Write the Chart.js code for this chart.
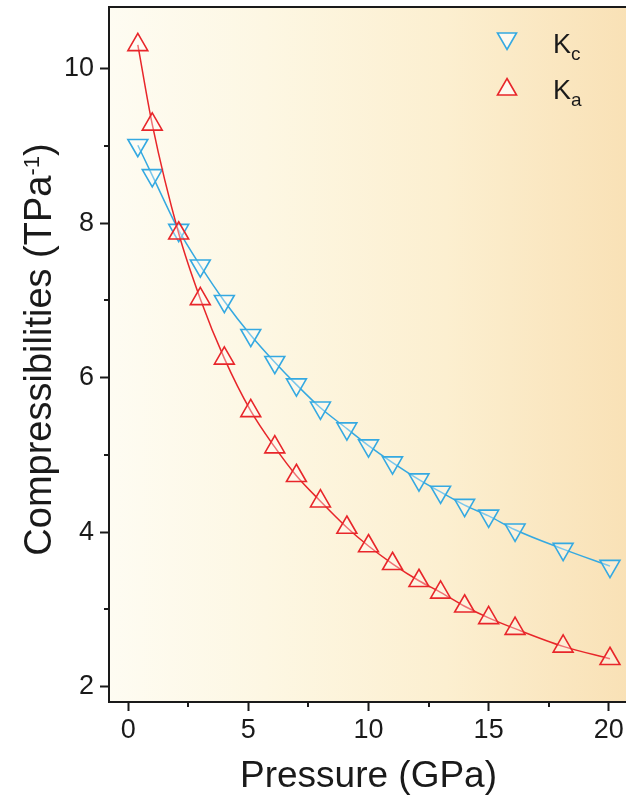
<!DOCTYPE html>
<html>
<head>
<meta charset="utf-8">
<script src="https://cdn.jsdelivr.net/npm/chart.js@4.4.1/dist/chart.umd.min.js"></script>
<style>
  html, body { margin: 0; padding: 0; background: #fff; overflow: hidden; }
  #chdiv { width: 626px; height: 805px; overflow: hidden; }
  canvas { display: block; }
</style>
</head>
<body>
<div id="chdiv"><canvas id="kchart" width="630" height="805"></canvas></div>
<script>
// data
const pressure = [0.4, 1.0, 2.1, 3.0, 4.0, 5.1, 6.1, 7.0, 8.0, 9.1, 10.0, 11.0, 12.1, 13.0, 14.0, 15.0, 16.1, 18.1, 20.05];
const kc = [9.01, 8.62, 7.91, 7.45, 6.99, 6.55, 6.20, 5.91, 5.61, 5.34, 5.12, 4.90, 4.68, 4.52, 4.35, 4.21, 4.03, 3.78, 3.56];
const ka = [10.31, 9.28, 7.87, 7.02, 6.25, 5.57, 5.10, 4.73, 4.40, 4.06, 3.82, 3.59, 3.37, 3.22, 3.04, 2.89, 2.75, 2.52, 2.36];
const xTicks = [0, 5, 10, 15, 20];
const yTicks = [2, 4, 6, 8, 10];
const xMinor = [2.5, 7.5, 12.5, 17.5];
const yMinor = [3, 5, 7, 9];

const BLUE = '#35a9e1';
const RED = '#e8262a';
const INK = '#1a1a1a';
const FONT = "'Liberation Sans', Arial, sans-serif";

Chart.defaults.font.family = FONT;
Chart.defaults.color = INK;

const toPoints = ys => pressure.map((p, i) => ({ x: p, y: ys[i] }));

function tri(ctx, x, y, r, down) {
  const s = down ? -1 : 1;
  ctx.beginPath();
  ctx.moveTo(x, y - s * r);
  ctx.lineTo(x + r * 0.866, y + s * r / 2);
  ctx.lineTo(x - r * 0.866, y + s * r / 2);
  ctx.closePath();
  ctx.fill();
  ctx.stroke();
}

const paper = {
  id: 'paper',
  beforeDraw(chart) {
    const { ctx, chartArea: a } = chart;
    const g = ctx.createLinearGradient(a.left, 0, a.right, 0);
    g.addColorStop(0, '#fefcf2');
    g.addColorStop(0.3, '#fdf7e3');
    g.addColorStop(0.65, '#fcefd0');
    g.addColorStop(1, '#f9e1b6');
    ctx.save();
    ctx.fillStyle = g;
    ctx.fillRect(a.left, a.top, a.right - a.left, a.bottom - a.top);
    ctx.restore();
  },
  afterDraw(chart) {
    const { ctx, chartArea: a, scales: { x, y } } = chart;
    ctx.save();
    // top frame
    ctx.strokeStyle = INK;
    ctx.lineWidth = 2;
    ctx.beginPath();
    ctx.moveTo(a.left - 1, a.top);
    ctx.lineTo(a.right, a.top);
    ctx.stroke();
    // minor ticks
    ctx.beginPath();
    xMinor.forEach(v => {
      const px = Math.round(x.getPixelForValue(v));
      ctx.moveTo(px, a.bottom);
      ctx.lineTo(px, a.bottom + 5);
    });
    yMinor.forEach(v => {
      const py = Math.round(y.getPixelForValue(v));
      ctx.moveTo(a.left, py);
      ctx.lineTo(a.left - 5, py);
    });
    ctx.stroke();

    // y title with superscript
    const main = 'Compressibilities (TPa';
    const sup = '-1';
    const close = ')';
    ctx.fillStyle = INK;
    ctx.textBaseline = 'alphabetic';
    ctx.font = '38px ' + FONT;
    const w1 = ctx.measureText(main).width;
    const w3 = ctx.measureText(close).width;
    ctx.font = '22px ' + FONT;
    const w2 = ctx.measureText(sup).width;
    const total = w1 + w2 + w3;
    ctx.translate(51, (a.top + a.bottom) / 2 - 5);
    ctx.rotate(-Math.PI / 2);
    let cx = -total / 2;
    ctx.font = '38px ' + FONT;
    ctx.fillText(main, cx, 0);
    cx += w1;
    ctx.font = '22px ' + FONT;
    ctx.fillText(sup, cx, -12);
    cx += w2;
    ctx.font = '38px ' + FONT;
    ctx.fillText(close, cx, 0);
    ctx.restore();

    // legend
    const items = [
      { color: BLUE, down: true, main: 'K', sub: 'c', my: 38.5, base: 53 },
      { color: RED, down: false, main: 'K', sub: 'a', my: 89.5, base: 98.5 }
    ];
    ctx.save();
    items.forEach(it => {
      ctx.strokeStyle = it.color;
      ctx.fillStyle = 'rgba(255,255,255,0.7)';
      ctx.lineWidth = 1.6;
      tri(ctx, 507, it.my, 11, it.down);
      ctx.fillStyle = INK;
      ctx.textBaseline = 'alphabetic';
      ctx.font = '27px ' + FONT;
      ctx.fillText(it.main, 553, it.base);
      const kw = ctx.measureText(it.main).width;
      ctx.font = '19px ' + FONT;
      ctx.fillText(it.sub, 553 + kw, it.base + 7);
    });
    ctx.restore();
  }
};

new Chart(document.getElementById('kchart').getContext('2d'), {
  type: 'line',
  data: {
    datasets: [
      {
        label: 'Kc',
        data: toPoints(kc),
        borderColor: BLUE,
        borderWidth: 1.5,
        pointStyle: 'triangle',
        rotation: 180,
        pointRadius: 11.5,
        pointBorderWidth: 1.6,
        pointBorderColor: BLUE,
        pointBackgroundColor: 'rgba(255,255,255,0.35)',
        cubicInterpolationMode: 'monotone',
        fill: false,
        order: 2
      },
      {
        label: 'Ka',
        data: toPoints(ka),
        borderColor: RED,
        borderWidth: 1.5,
        pointStyle: 'triangle',
        pointRadius: 11.5,
        pointBorderWidth: 1.6,
        pointBorderColor: RED,
        pointBackgroundColor: 'rgba(255,255,255,0.35)',
        cubicInterpolationMode: 'monotone',
        fill: false,
        order: 1
      }
    ]
  },
  options: {
    responsive: false,
    animation: false,
    devicePixelRatio: 1,
    layout: { autoPadding: false, padding: { top: 7, right: 2, left: 0, bottom: 0 } },
    plugins: { legend: { display: false }, tooltip: { enabled: false } },
    scales: {
      x: {
        type: 'linear',
        min: -0.8,
        max: 20.8,
        afterBuildTicks: s => { s.ticks = xTicks.map(v => ({ value: v })); },
        afterFit: s => { s.height = 103; s.paddingLeft = 0; s.paddingRight = 0; },
        grid: { display: true, drawOnChartArea: false, drawTicks: true, tickLength: 9, tickWidth: 2, tickColor: INK },
        border: { display: true, color: INK, width: 2 },
        ticks: { font: { size: 27 }, color: INK, padding: 3, maxRotation: 0 },
        title: { display: true, text: 'Pressure (GPa)', font: { size: 37 }, color: INK, padding: { top: 0, bottom: 6 } }
      },
      y: {
        type: 'linear',
        min: 1.8,
        max: 10.8,
        afterBuildTicks: s => { s.ticks = yTicks.map(v => ({ value: v })); },
        afterFit: s => { s.width = 109; s.paddingTop = 0; s.paddingBottom = 0; },
        grid: { display: true, drawOnChartArea: false, drawTicks: true, tickLength: 9, tickWidth: 2, tickColor: INK },
        border: { display: true, color: INK, width: 2 },
        ticks: { font: { size: 27 }, color: INK, padding: 6 }
      }
    }
  },
  plugins: [paper]
});
</script>
</body>
</html>
